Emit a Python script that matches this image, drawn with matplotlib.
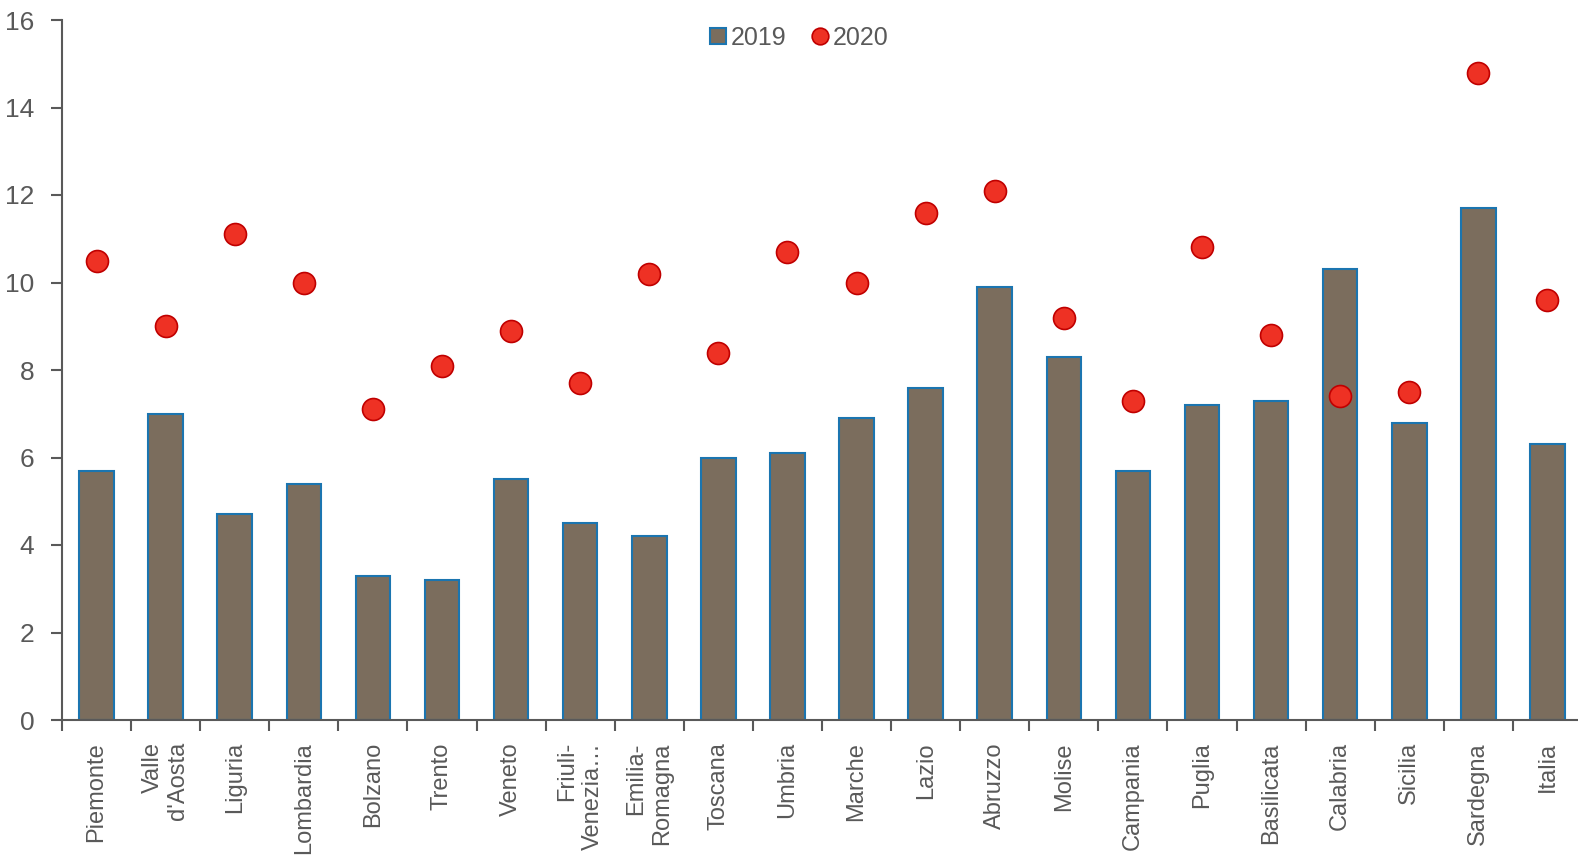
import matplotlib.pyplot as plt
import numpy as np
from matplotlib.lines import Line2D

regioni = ["Piemonte", "Valle\nd'Aosta", "Liguria", "Lombardia", "Bolzano",
           "Trento", "Veneto", "Friuli-\nVenezia…", "Emilia-\nRomagna",
           "Toscana", "Umbria", "Marche", "Lazio", "Abruzzo", "Molise",
           "Campania", "Puglia", "Basilicata", "Calabria", "Sicilia",
           "Sardegna", "Italia"]
val_2019 = [5.7, 7.0, 4.7, 5.4, 3.3, 3.2, 5.5, 4.5, 4.2, 6.0, 6.1, 6.9,
            7.6, 9.9, 8.3, 5.7, 7.2, 7.3, 10.3, 6.8, 11.7, 6.3]
val_2020 = [10.5, 9.0, 11.1, 10.0, 7.1, 8.1, 8.9, 7.7, 10.2, 8.4, 10.7,
            10.0, 11.6, 12.1, 9.2, 7.3, 10.8, 8.8, 7.4, 7.5, 14.8, 9.6]
y_ticks = [0, 2, 4, 6, 8, 10, 12, 14, 16]

plt.rcParams['font.family'] = ["Liberation Sans", "DejaVu Sans"]

grey = "#595959"
bar_col = "#7b6d5d"
bar_edge = "#1b75b0"
dot_col = "#ee3124"
dot_edge = "#c00000"

fig = plt.figure(figsize=(15.78, 8.56), dpi=100)
ax = fig.add_axes([62 / 1578, 1 - 720 / 856, 1520 / 1578, 700 / 856])

x = np.arange(len(regioni))
ax.bar(x, val_2019, width=0.5, color=bar_col, edgecolor=bar_edge,
       linewidth=1.5, zorder=2)
ax.scatter(x, val_2020, s=250, marker="o", color=dot_col,
           edgecolors=dot_edge, linewidths=1.2, zorder=3, clip_on=False)

ax.set_xlim(-0.5, len(regioni) - 0.5)
ax.set_ylim(0, 16)
ax.set_yticks(y_ticks)
ax.set_xticks(x)
ax.set_xticklabels(regioni, rotation=90, ha="center", va="top",
                   multialignment="right")
ax.set_xticks(np.arange(len(regioni) + 1) - 0.5, minor=True)

ax.tick_params(axis="x", which="major", length=0, pad=16,
               labelsize=17, labelcolor=grey)
ax.tick_params(axis="x", which="minor", length=8, width=1.5, color=grey,
               direction="out")
ax.tick_params(axis="y", length=8, width=1.5, color=grey, labelsize=19,
               labelcolor=grey, pad=12)

for s in ["top", "right"]:
    ax.spines[s].set_visible(False)
for s in ["left", "bottom"]:
    ax.spines[s].set_color(grey)
    ax.spines[s].set_linewidth(1.5)

handles = [
    Line2D([], [], linestyle="none", marker="s", markersize=11,
           markerfacecolor=bar_col, markeredgecolor=bar_edge,
           markeredgewidth=1.5),
    Line2D([], [], linestyle="none", marker="o", markersize=12,
           markerfacecolor=dot_col, markeredgecolor=dot_edge,
           markeredgewidth=1.2),
]
leg = ax.legend(handles, ["2019", "2020"], loc="upper center",
                bbox_to_anchor=(0.484, 1.006), ncol=2, frameon=False,
                fontsize=18, handletextpad=0.05, columnspacing=0.9,
                handlelength=0.9, borderaxespad=0.0)
for txt in leg.get_texts():
    txt.set_color(grey)

fig.savefig("out.png", dpi=100)
